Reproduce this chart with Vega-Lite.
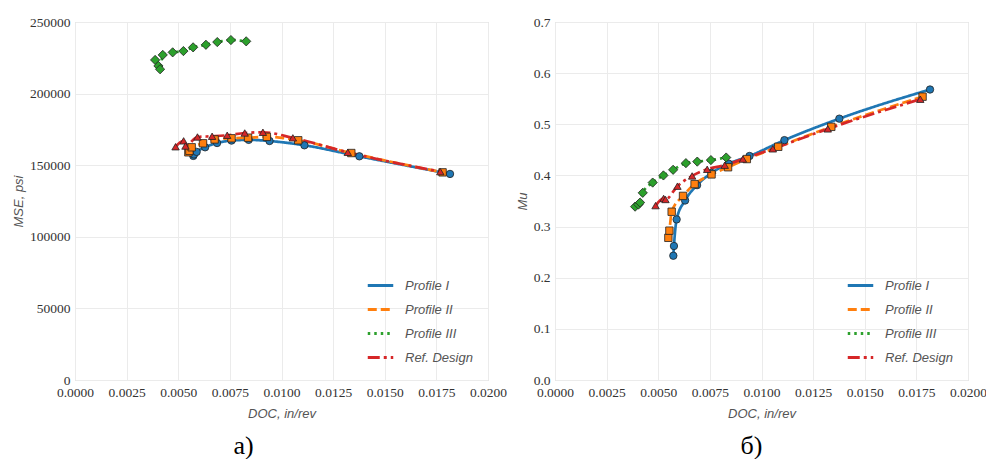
{
  "$schema": "https://vega.github.io/schema/vega-lite/v6.json",
  "padding": {"left": 12, "top": 14, "right": 1, "bottom": 0},
  "datasets": {
    "pts": [
      {"s": "Profile I", "doc": 0.00573, "mse": 156500, "mu": 0.243},
      {"s": "Profile I", "doc": 0.00576, "mse": 157500, "mu": 0.262},
      {"s": "Profile I", "doc": 0.00589, "mse": 159300, "mu": 0.314},
      {"s": "Profile I", "doc": 0.00630, "mse": 162500, "mu": 0.351},
      {"s": "Profile I", "doc": 0.00688, "mse": 165500, "mu": 0.381},
      {"s": "Profile I", "doc": 0.00758, "mse": 167200, "mu": 0.405},
      {"s": "Profile I", "doc": 0.00841, "mse": 167700, "mu": 0.423},
      {"s": "Profile I", "doc": 0.00942, "mse": 166900, "mu": 0.438},
      {"s": "Profile I", "doc": 0.01111, "mse": 163900, "mu": 0.469},
      {"s": "Profile I", "doc": 0.01377, "mse": 156200, "mu": 0.511},
      {"s": "Profile I", "doc": 0.01816, "mse": 143900, "mu": 0.568},
      {"s": "Profile II", "doc": 0.00549, "mse": 159000, "mu": 0.278},
      {"s": "Profile II", "doc": 0.00554, "mse": 160000, "mu": 0.292},
      {"s": "Profile II", "doc": 0.00565, "mse": 162500, "mu": 0.329},
      {"s": "Profile II", "doc": 0.00620, "mse": 165300, "mu": 0.360},
      {"s": "Profile II", "doc": 0.00676, "mse": 168000, "mu": 0.383},
      {"s": "Profile II", "doc": 0.00758, "mse": 168800, "mu": 0.402},
      {"s": "Profile II", "doc": 0.00838, "mse": 169200, "mu": 0.416},
      {"s": "Profile II", "doc": 0.00929, "mse": 169800, "mu": 0.432},
      {"s": "Profile II", "doc": 0.01081, "mse": 167400, "mu": 0.456},
      {"s": "Profile II", "doc": 0.01338, "mse": 158500, "mu": 0.495},
      {"s": "Profile II", "doc": 0.01780, "mse": 145000, "mu": 0.554},
      {"s": "Profile III", "doc": 0.00388, "mse": 223500, "mu": 0.339},
      {"s": "Profile III", "doc": 0.00404, "mse": 219300, "mu": 0.343},
      {"s": "Profile III", "doc": 0.00412, "mse": 217000, "mu": 0.347},
      {"s": "Profile III", "doc": 0.00425, "mse": 227000, "mu": 0.366},
      {"s": "Profile III", "doc": 0.00473, "mse": 228800, "mu": 0.386},
      {"s": "Profile III", "doc": 0.00525, "mse": 229700, "mu": 0.400},
      {"s": "Profile III", "doc": 0.00572, "mse": 232300, "mu": 0.411},
      {"s": "Profile III", "doc": 0.00634, "mse": 234100, "mu": 0.424},
      {"s": "Profile III", "doc": 0.00689, "mse": 236000, "mu": 0.427},
      {"s": "Profile III", "doc": 0.00755, "mse": 237400, "mu": 0.430},
      {"s": "Profile III", "doc": 0.00829, "mse": 236500, "mu": 0.435},
      {"s": "Ref. Design", "doc": 0.00487, "mse": 162900, "mu": 0.341},
      {"s": "Ref. Design", "doc": 0.00526, "mse": 167000, "mu": 0.355},
      {"s": "Ref. Design", "doc": 0.00535, "mse": 163400, "mu": 0.353},
      {"s": "Ref. Design", "doc": 0.00593, "mse": 169700, "mu": 0.379},
      {"s": "Ref. Design", "doc": 0.00664, "mse": 170200, "mu": 0.399},
      {"s": "Ref. Design", "doc": 0.00737, "mse": 170900, "mu": 0.412},
      {"s": "Ref. Design", "doc": 0.00822, "mse": 172500, "mu": 0.420},
      {"s": "Ref. Design", "doc": 0.00910, "mse": 173000, "mu": 0.432},
      {"s": "Ref. Design", "doc": 0.01055, "mse": 169100, "mu": 0.452},
      {"s": "Ref. Design", "doc": 0.01321, "mse": 159000, "mu": 0.491},
      {"s": "Ref. Design", "doc": 0.01769, "mse": 145500, "mu": 0.549}
    ]
  },
  "config": {
    "font": "Liberation Sans Narrow",
    "view": {"stroke": "#d0d0d0", "strokeWidth": 1},
    "axis": {
      "gridColor": "#ebebeb", "domain": false, "ticks": false,
      "labelFont": "Liberation Sans Narrow", "labelFontSize": 13.5, "labelColor": "#333333",
      "labelFlush": false, "labelOverlap": false, "labelPadding": 5,
      "titleFont": "Liberation Sans", "titleFontSize": 13, "titleFontStyle": "italic",
      "titleFontWeight": "normal", "titleColor": "#555555"
    },
    "legend": {
      "orient": "bottom-right", "offset": 15,
      "labelFont": "Liberation Sans", "labelFontStyle": "italic", "labelFontSize": 13,
      "labelColor": "#555555", "symbolType": "stroke", "symbolSize": 650,
      "symbolStrokeWidth": 3, "rowPadding": 2, "labelOffset": 10
    },
    "title": {"font": "Liberation Serif", "fontSize": 26, "fontWeight": "normal", "color": "#000000", "orient": "bottom", "offset": 12}
  },
  "spacing": 7,
  "resolve": {"scale": {"color": "independent", "strokeDash": "independent"}, "legend": {"color": "independent", "strokeDash": "independent"}},
  "hconcat": [
    {
      "width": 413, "height": 358,
      "title": {"text": "a)", "dx": -38},
      "data": {"name": "pts"},
      "encoding": {
        "x": {"field": "doc", "type": "quantitative", "scale": {"domain": [0, 0.02], "nice": false, "zero": false},
              "axis": {"values": [0, 0.0025, 0.005, 0.0075, 0.01, 0.0125, 0.015, 0.0175, 0.02], "format": ".4f", "title": "DOC, in/rev", "titlePadding": 9}},
        "y": {"field": "mse", "type": "quantitative", "scale": {"domain": [0, 250000], "nice": false},
              "axis": {"values": [0, 50000, 100000, 150000, 200000, 250000], "format": "d", "title": "MSE, psi", "titlePadding": 4}}
      },
      "layer": [
        {"mark": {"type": "line", "interpolate": "monotone", "strokeWidth": 2.7},
         "encoding": {
           "color": {"field": "s", "type": "nominal", "scale": {"domain": ["Profile I", "Profile II", "Profile III", "Ref. Design"], "range": ["#1f77b4", "#ff7f0e", "#2ca02c", "#d62728"]}, "legend": {"title": null}},
           "strokeDash": {"field": "s", "type": "nominal", "scale": {"domain": ["Profile I", "Profile II", "Profile III", "Ref. Design"], "range": [[1, 0], [9, 4], [2.5, 4], [12, 4, 3, 4]]}, "legend": {"title": null}}
         }},
        {"transform": [{"filter": "datum.s === 'Profile I'"}], "mark": {"type": "point", "shape": "circle", "filled": true, "fill": "#1f77b4", "stroke": "#222222", "strokeWidth": 0.8, "size": 55, "opacity": 1}},
        {"transform": [{"filter": "datum.s === 'Profile II'"}], "mark": {"type": "point", "shape": "square", "filled": true, "fill": "#ff7f0e", "stroke": "#222222", "strokeWidth": 0.8, "size": 55, "opacity": 1}},
        {"transform": [{"filter": "datum.s === 'Profile III'"}], "mark": {"type": "point", "shape": "diamond", "filled": true, "fill": "#2ca02c", "stroke": "#222222", "strokeWidth": 0.8, "size": 85, "opacity": 1}},
        {"transform": [{"filter": "datum.s === 'Ref. Design'"}], "mark": {"type": "point", "shape": "triangle-up", "filled": true, "fill": "#d62728", "stroke": "#222222", "strokeWidth": 0.8, "size": 55, "opacity": 1}}
      ]
    },
    {
      "width": 413, "height": 358,
      "title": {"text": "б)", "dx": -10},
      "data": {"name": "pts"},
      "encoding": {
        "x": {"field": "doc", "type": "quantitative", "scale": {"domain": [0, 0.02], "nice": false, "zero": false},
              "axis": {"values": [0, 0.0025, 0.005, 0.0075, 0.01, 0.0125, 0.015, 0.0175, 0.02], "format": ".4f", "title": "DOC, in/rev", "titlePadding": 9}},
        "y": {"field": "mu", "type": "quantitative", "scale": {"domain": [0, 0.7], "nice": false},
              "axis": {"values": [0, 0.1, 0.2, 0.3, 0.4, 0.5, 0.6, 0.7], "format": ".1f", "title": "Mu", "titlePadding": 4}}
      },
      "layer": [
        {"mark": {"type": "line", "interpolate": "monotone", "strokeWidth": 2.7},
         "encoding": {
           "color": {"field": "s", "type": "nominal", "scale": {"domain": ["Profile I", "Profile II", "Profile III", "Ref. Design"], "range": ["#1f77b4", "#ff7f0e", "#2ca02c", "#d62728"]}, "legend": {"title": null}},
           "strokeDash": {"field": "s", "type": "nominal", "scale": {"domain": ["Profile I", "Profile II", "Profile III", "Ref. Design"], "range": [[1, 0], [9, 4], [2.5, 4], [12, 4, 3, 4]]}, "legend": {"title": null}}
         }},
        {"transform": [{"filter": "datum.s === 'Profile I'"}], "mark": {"type": "point", "shape": "circle", "filled": true, "fill": "#1f77b4", "stroke": "#222222", "strokeWidth": 0.8, "size": 55, "opacity": 1}},
        {"transform": [{"filter": "datum.s === 'Profile II'"}], "mark": {"type": "point", "shape": "square", "filled": true, "fill": "#ff7f0e", "stroke": "#222222", "strokeWidth": 0.8, "size": 55, "opacity": 1}},
        {"transform": [{"filter": "datum.s === 'Profile III'"}], "mark": {"type": "point", "shape": "diamond", "filled": true, "fill": "#2ca02c", "stroke": "#222222", "strokeWidth": 0.8, "size": 85, "opacity": 1}},
        {"transform": [{"filter": "datum.s === 'Ref. Design'"}], "mark": {"type": "point", "shape": "triangle-up", "filled": true, "fill": "#d62728", "stroke": "#222222", "strokeWidth": 0.8, "size": 55, "opacity": 1}}
      ]
    }
  ]
}
